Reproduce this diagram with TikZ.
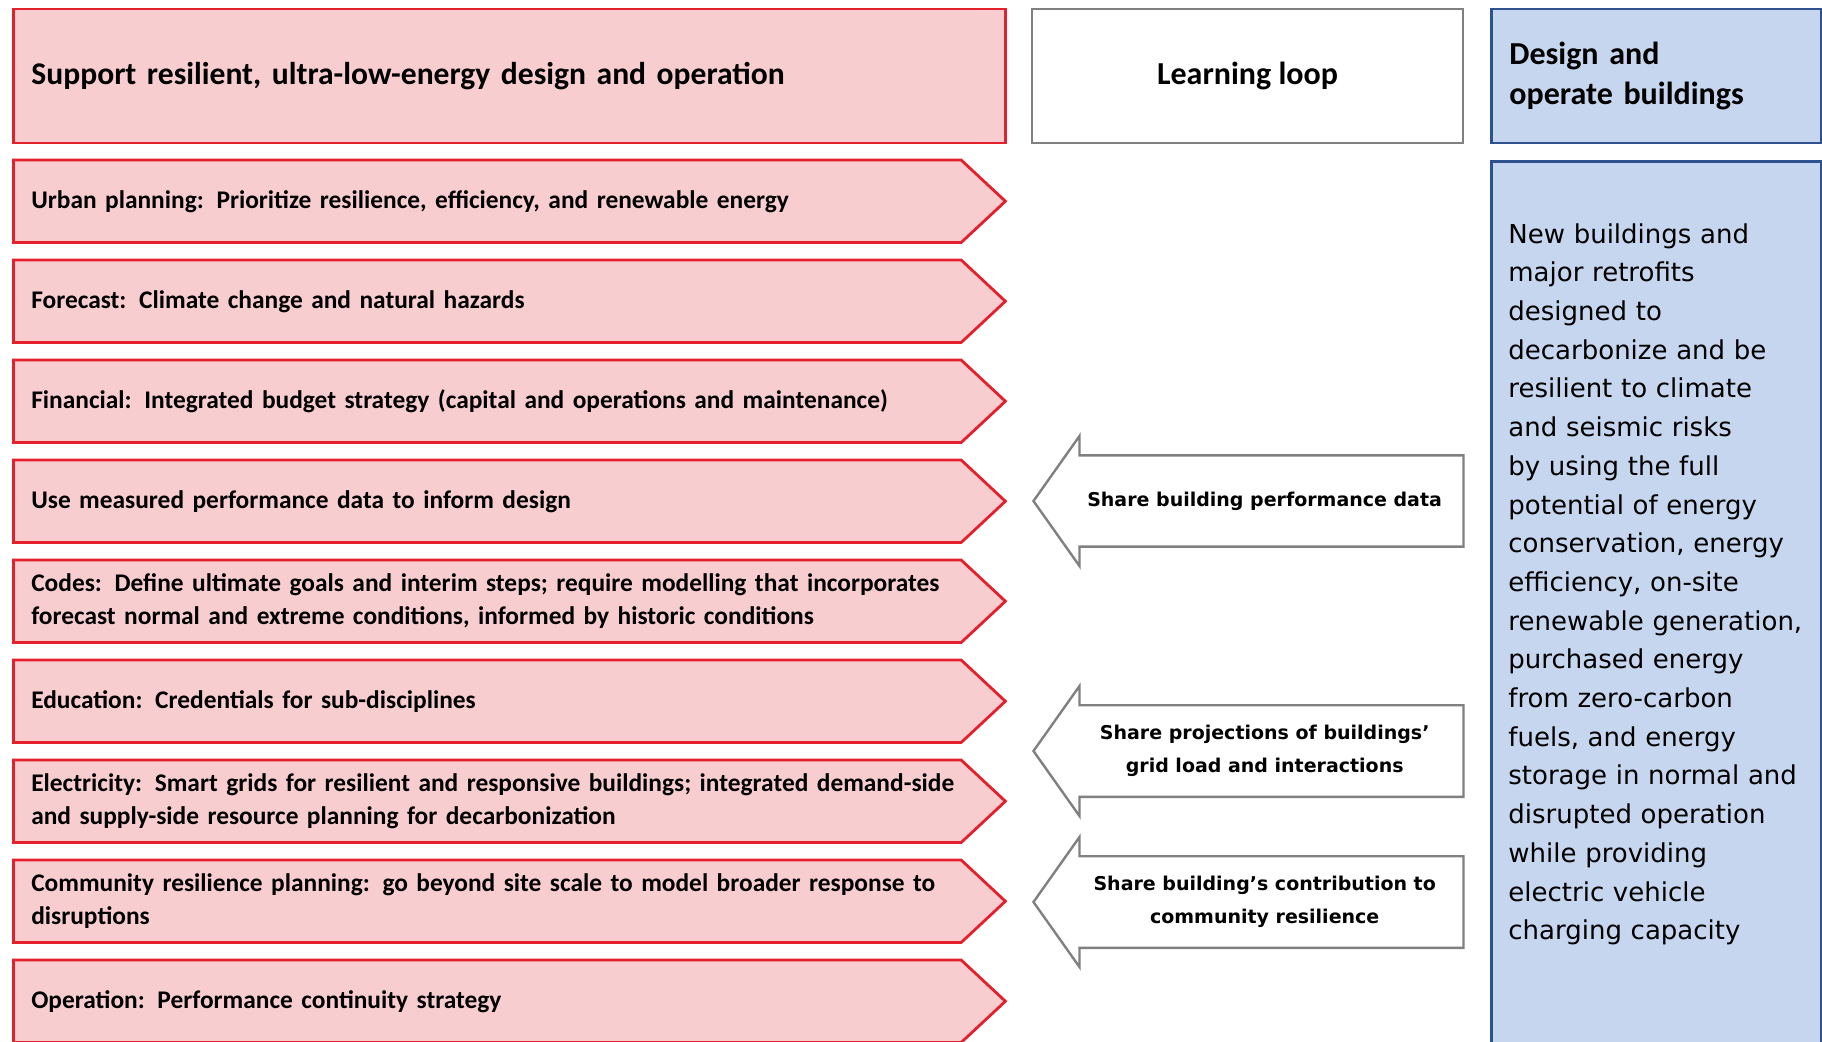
\documentclass[tikz,border=0pt]{standalone}
\usepackage{fontspec}
\setmainfont{Carlito}
\newfontfamily\dejavu{DejaVu Sans}
\usetikzlibrary{shapes.arrows,shapes.symbols}
\definecolor{goalred}{RGB}{228,32,44}
\definecolor{goalpink}{RGB}{248,205,208}
\definecolor{loopgray}{RGB}{128,128,128}
\definecolor{bldgblue}{RGB}{198,214,238}
\definecolor{bldgedge}{RGB}{47,82,143}
\begin{document}
\begin{tikzpicture}[x=0.5pt,y=-0.5pt,
            every node/.style={inner sep=0pt},
            goal/.style={signal,signal to=east,signal pointer angle=86,
              draw=goalred,fill=goalpink,line width=1.4pt,
              minimum width=496pt,minimum height=41.25pt,anchor=west,
              text width=456pt,align=left,
              font=\bfseries\fontsize{12.7}{16.8}\selectfont},
            share/.style={single arrow,shape border rotate=180,
              single arrow tip angle=109.4,single arrow head extend=9pt,
              draw=loopgray,fill=white,line width=1.2pt,inner ysep=15.9pt,
              minimum height=215pt,minimum width=65pt,anchor=tip,
              align=center,font=\dejavu\bfseries\fontsize{9.5}{16.3}\selectfont},
            head/.style={rectangle,line width=1.4pt,minimum height=67pt,
              font=\bfseries\fontsize{16}{20}\selectfont}]
  \useasboundingbox (0,0) rectangle (1822,1041);
  \clip (0,0) rectangle (1822,1041);

  % headers
  \node[head,draw=goalred,fill=goalpink,anchor=west,inner xsep=9pt,
    text width=478pt,align=left,font=\bfseries\fontsize{15.8}{20}\selectfont] (support) at (12,76)
    {Support resilient, ultra-low-energy design and operation};
  \node[head,draw=loopgray,fill=white,minimum width=215.5pt] (loop) at (1247.5,76)
    {Learning loop};
  \node[head,draw=bldgedge,fill=bldgblue,anchor=west,inner xsep=9pt,
    text width=147pt,align=left] (design) at (1490,76)
    {Design and\\operate buildings};

  % left column
  \node[goal] (urban) at (12,201.25)
    {Urban planning: Prioritize resilience, efficiency, and renewable energy};
  \node[goal] (forecast) at (12,301.25)
    {Forecast: Climate change and natural hazards};
  \node[goal] (financial) at (12,401.25)
    {Financial: Integrated budget strategy (capital and operations and maintenance)};
  \node[goal] (measured) at (12,501.25)
    {Use measured performance data to inform design};
  \node[goal] (codes) at (12,601.25)
    {Codes: Define ultimate goals and interim steps; require modelling that incorporates\\
     forecast normal and extreme conditions, informed by historic conditions};
  \node[goal] (education) at (12,701.25)
    {Education: Credentials for sub-disciplines};
  \node[goal] (electricity) at (12,801.25)
    {\mbox{Electricity: Smart grids for resilient and responsive buildings; integrated demand-side}\\
     and supply-side resource planning for decarbonization};
  \node[goal] (community) at (12,901.25)
    {Community resilience planning: go beyond site scale to model broader response to\\
     disruptions};
  \node[goal] (operation) at (12,1001.25)
    {Operation: Performance continuity strategy};

  % learning loop arrows
  \node[share] (perf) at (1032,501) {Share building performance data};
  \node[share,inner ysep=8.1pt] (grid) at (1032,751)
    {Share projections of buildings’\\grid load and interactions};
  \node[share,inner ysep=8.1pt] (contrib) at (1032,902)
    {Share building’s contribution to\\community resilience};

  % right column
  \node[rectangle,draw=bldgedge,fill=bldgblue,line width=1.4pt,anchor=north west,
    minimum width=165pt,minimum height=460pt] (bldg) at (1490,160) {};
  \node[anchor=north west,text width=150pt,align=left,
    font=\dejavu\fontsize{13}{19.35}\selectfont] (bldgtext) at (1508,223)
    {New buildings and\\major retrofits\\designed to\\decarbonize and be\\resilient to climate\\
     and seismic risks\\by using the full\\potential of energy\\conservation, energy\\
     efficiency, on-site\\renewable generation,\\purchased energy\\from zero-carbon\\
     fuels, and energy\\storage in normal and\\disrupted operation\\while providing\\
     electric vehicle\\charging capacity};
\end{tikzpicture}
\end{document}
